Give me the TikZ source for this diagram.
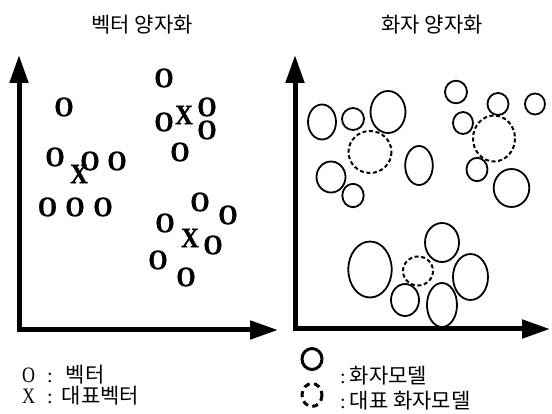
\documentclass[tikz,border=0pt]{standalone}
\usepackage{fontspec}
\setmainfont{Liberation Serif}
\newfontfamily\krfont{Noto Sans CJK KR}
\newfontfamily\vecfont{Liberation Serif}[BoldFeatures={FakeBold=1}]
\usetikzlibrary{arrows.meta}

% tall heavy serif letter used for the vector marks
\newcommand{\vecmark}[1]{\scalebox{0.98}[1.13]{#1}}

\begin{document}
\begin{tikzpicture}[x=1pt,y=-1pt,
  axis/.style={line width=5pt, line join=miter,
    {Triangle[length=28pt,width=18pt]}-{Triangle[length=28pt,width=18pt]}},
  title/.style={font=\krfont\fontsize{21}{21}\selectfont, inner sep=0pt},
  vec/.style={font=\vecfont\fontsize{25}{25}\selectfont\bfseries, inner sep=0pt},
  spk/.style={line width=1.8pt},
  rep/.style={line width=2pt, dash pattern=on 4pt off 2.6pt},
  legtxt/.style={font=\fontsize{20}{20}\selectfont, inner sep=0pt, anchor=base west},
  legsolid/.style={line width=3pt},
  legdash/.style={line width=3pt, dash pattern=on 6pt off 4.5pt}]

\useasboundingbox (0,0) rectangle (552,414);

% titles
\node[title] (t1) at (142,25) {벡터 양자화};
\node[title] (t2) at (432,25) {화자 양자화};

% axes of the two panels
\coordinate (ly) at (19,55);
\coordinate (lo) at (19,330);
\coordinate (lx) at (278,330);
\draw[axis] (ly) -- (lo) -- (lx);
\coordinate (ry) at (295,55);
\coordinate (ro) at (295,329);
\coordinate (rx) at (550,329);
\draw[axis] (ry) -- (ro) -- (rx);

% vectors (O) and representative vectors (X)
\node[vec] (v1) at (164,78) {\vecmark{O}};
\node[vec] (v2) at (64,107) {\vecmark{O}};
\node[vec] (v3) at (164,122) {\vecmark{O}};
\node[vec] (c1) at (184,115) {\vecmark{X}};
\node[vec] (v4) at (207,107) {\vecmark{O}};
\node[vec] (v5) at (207,130) {\vecmark{O}};
\node[vec] (v6) at (180,152) {\vecmark{O}};
\node[vec] (v7) at (55,157) {\vecmark{O}};
\node[vec] (c2) at (79,174) {\vecmark{X}};
\node[vec] (v8) at (90,161) {\vecmark{O}};
\node[vec] (v9) at (117,161) {\vecmark{O}};
\node[vec] (v10) at (47.5,207) {\vecmark{O}};
\node[vec] (v11) at (75,207) {\vecmark{O}};
\node[vec] (v12) at (103,207) {\vecmark{O}};
\node[vec] (v13) at (200,202) {\vecmark{O}};
\node[vec] (v14) at (228,215) {\vecmark{O}};
\node[vec] (v15) at (165,223) {\vecmark{O}};
\node[vec] (c3) at (190,238) {\vecmark{X}};
\node[vec] (v16) at (213,245) {\vecmark{O}};
\node[vec] (v17) at (158,260) {\vecmark{O}};
\node[vec] (v18) at (186,277) {\vecmark{O}};

% speaker models (solid) and representative speaker models (dashed)
\draw[spk] (322,122) ellipse [x radius=14, y radius=17.5];
\draw[spk] (353,119) ellipse [x radius=11, y radius=11];
\draw[spk] (388,112) ellipse [x radius=17.5, y radius=21];
\draw[rep] (370,152) ellipse [x radius=21.5, y radius=21];
\draw[spk] (419,165.5) ellipse [x radius=13.8, y radius=19.5];
\draw[spk] (331,177) ellipse [x radius=14.5, y radius=15.5];
\draw[spk] (353,195.5) ellipse [x radius=10.7, y radius=11.7];

\draw[spk] (456,92) ellipse [x radius=11, y radius=11.3];
\draw[spk] (498,104) ellipse [x radius=10.5, y radius=11];
\draw[spk] (535,104) ellipse [x radius=10, y radius=10.5];
\draw[spk] (463,123) ellipse [x radius=10, y radius=11];
\draw[rep] (494,138.5) ellipse [x radius=21, y radius=23];
\draw[spk] (477,169.5) ellipse [x radius=10.5, y radius=11.7];
\draw[spk] (511.5,188) ellipse [x radius=17.8, y radius=19];

\draw[spk] (370,269.5) ellipse [x radius=21.7, y radius=28];
\draw[spk] (442,242.5) ellipse [x radius=17, y radius=19.5];
\draw[rep] (418,271) ellipse [x radius=15, y radius=14.5];
\draw[spk] (470.5,277) ellipse [x radius=17.5, y radius=23];
\draw[spk] (405,300) ellipse [x radius=14, y radius=16];
\draw[spk] (442,305) ellipse [x radius=15, y radius=22];

% legends
\node[legtxt] (l1) at (22,382) {\scalebox{0.9}[1.1]{O}\hspace{12pt}:\hspace{13pt}{\krfont\fontsize{21}{21}\selectfont 벡터}};
\node[legtxt] (l2) at (22,403) {\scalebox{0.9}[1.1]{X}\hspace{12pt}:\hspace{9pt}{\krfont\fontsize{21}{21}\selectfont 대표벡터}};

\draw[legsolid] (312,359) ellipse [x radius=10, y radius=10.5];
\draw[legdash] (312,395) ellipse [x radius=10, y radius=11.5];
\node[legtxt] (l3) at (340,383) {:\hspace{4pt}{\krfont\fontsize{21}{21}\selectfont 화자모델}};
\node[legtxt] (l4) at (340,408) {:\hspace{4pt}{\krfont\fontsize{21}{21}\selectfont 대표 화자모델}};
\end{tikzpicture}
\end{document}
